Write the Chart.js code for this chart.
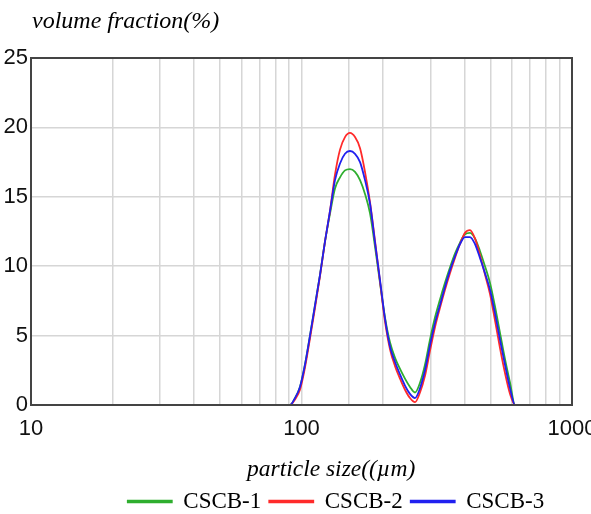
<!DOCTYPE html>
<html>
<head>
<meta charset="utf-8">
<script src="https://cdn.jsdelivr.net/npm/chart.js@4"></script>
<style>
  html, body { margin: 0; padding: 0; background: #fff; }
  #wrap { position: relative; width: 591px; height: 514px; }
  .lbl { position: absolute; font: italic 24px "Liberation Serif", serif; color: #000; white-space: nowrap; }
  #ytitle { left: 32px; top: 7px; }
  #xtitle { left: 247px; top: 455px; font-size: 23.5px; }
  canvas { position: absolute; left: 0; top: 0; }
</style>
</head>
<body>
<div id="wrap">
  <canvas id="psdChart" width="591" height="514"></canvas>
  <div class="lbl" id="ytitle">volume fraction(%)</div>
  <div class="lbl" id="xtitle">particle size((µm)</div>
</div>
<script>
// particle size classes (µm)
const sizes = [10, 90.7, 94.6, 98.7, 103.0, 107.5, 112.2, 117.1, 122.2, 127.5, 133.0, 138.8, 144.8, 151.1, 157.7, 164.6, 171.7, 179.2, 187.0, 195.1, 203.6, 212.5, 221.7, 231.3, 241.3, 251.8, 262.8, 274.2, 286.1, 298.5, 311.5, 325.1, 339.2, 353.9, 369.3, 385.5, 402.1, 419.6, 437.8, 456.8, 476.8, 497.6, 519.2, 541.8, 565.4, 590.1, 615.7, 903];
// volume fraction (%)
const cscb1 = [0, 0, 0.5, 1.3, 2.9, 5.0, 7.2, 9.4, 11.8, 13.8, 15.6, 16.4, 16.9, 17.0, 16.8, 16.2, 15.2, 13.8, 11.4, 8.8, 6.3, 4.5, 3.4, 2.6, 1.9, 1.3, 0.9, 1.6, 2.9, 4.7, 6.3, 7.6, 8.8, 9.9, 10.9, 11.7, 12.3, 12.4, 12.0, 11.1, 10.0, 8.8, 7.1, 5.2, 3.3, 1.6, 0, 0];
const cscb2 = [0, 0, 0.4, 1.1, 2.7, 4.8, 7.0, 9.3, 11.8, 14.0, 16.6, 18.4, 19.3, 19.6, 19.3, 18.5, 16.8, 14.6, 11.8, 8.9, 6.0, 4.0, 2.8, 1.9, 1.1, 0.5, 0.2, 0.9, 2.1, 3.9, 5.6, 7.0, 8.3, 9.5, 10.6, 11.6, 12.4, 12.6, 12.0, 10.8, 9.4, 8.0, 6.1, 4.1, 2.3, 0.8, 0, 0];
const cscb3 = [0, 0, 0.5, 1.3, 2.9, 5.0, 7.2, 9.4, 11.8, 14.0, 16.2, 17.4, 18.1, 18.3, 18.1, 17.5, 16.2, 14.5, 11.7, 9.0, 6.2, 4.2, 3.1, 2.2, 1.4, 0.8, 0.5, 1.2, 2.5, 4.3, 5.9, 7.2, 8.5, 9.7, 10.7, 11.6, 12.1, 12.1, 11.6, 10.6, 9.5, 8.3, 6.6, 4.7, 2.9, 1.2, 0, 0];
const xTickLabels = [10, 100, 1000];
const yTickLabels = [0, 5, 10, 15, 20, 25];

const tickFont = { family: '"Liberation Sans Narrow", "Liberation Sans", sans-serif', size: 22 };

const framePlugin = {
  id: 'frame',
  afterLayout(chart) {
    // legend in the source sits right of centre and a bit lower
    chart.legend.left += 50;
    chart.legend.right += 50;
    chart.legend.top += 9;
    chart.legend.bottom += 9;
  },
  afterDatasetsDraw(chart) {
    const a = chart.chartArea, ctx = chart.ctx;
    ctx.save();
    ctx.strokeStyle = '#444';
    ctx.lineWidth = 2;
    ctx.strokeRect(a.left, a.top, a.right - a.left, a.bottom - a.top);
    ctx.restore();
  }
};

function series(label, vals, color, order) {
  return {
    label: label,
    data: sizes.map((s, i) => ({ x: s, y: vals[i] })),
    borderColor: color,
    backgroundColor: color,
    borderWidth: 1.8,
    pointRadius: 0,
    cubicInterpolationMode: 'monotone',
    clip: 4,
    order: order
  };
}

new Chart(document.getElementById('psdChart').getContext('2d'), {
  type: 'line',
  data: {
    datasets: [
      series('CSCB-1', cscb1, '#2fae2f', 3),
      series('CSCB-2', cscb2, '#ff2a2a', 2),
      series('CSCB-3', cscb3, '#2020f0', 1)
    ]
  },
  options: {
    responsive: false,
    animation: false,
    layout: { padding: { left: 0, right: 19, top: 58, bottom: 0 } },
    plugins: {
      legend: {
        position: 'bottom',
        labels: {
          boxWidth: 44, boxHeight: 1.5, padding: 8, color: '#000',
          font: { family: '"Liberation Serif", serif', size: 23 },
          sort: (a, b) => a.datasetIndex - b.datasetIndex
        }
      },
      tooltip: { enabled: false }
    },
    scales: {
      x: {
        type: 'logarithmic', min: 10, max: 1000,
        afterBuildTicks: s => { s.ticks = s.ticks.filter(t => t.value >= 10 && t.value <= 1000); },
        afterFit: s => { s.height = 68; s.paddingRight = 0; s.paddingLeft = 0; },
        ticks: {
          autoSkip: false, maxRotation: 0, padding: 11, color: '#111', font: tickFont,
          callback: v => xTickLabels.includes(v) ? String(v) : ''
        },
        grid: { color: '#d6d6d6', lineWidth: 1.5, drawTicks: false },
        border: { color: '#444', width: 2 }
      },
      y: {
        min: 0, max: 25,
        afterBuildTicks: s => { s.ticks = yTickLabels.map(v => ({ value: v })); },
        afterFit: s => { s.width = 31; s.paddingTop = 0; s.paddingBottom = 0; },
        ticks: { padding: 3, color: '#111', font: tickFont },
        grid: { color: '#d6d6d6', lineWidth: 1.5, drawTicks: false },
        border: { color: '#444', width: 2 }
      }
    }
  },
  plugins: [framePlugin]
});
</script>
</body>
</html>
